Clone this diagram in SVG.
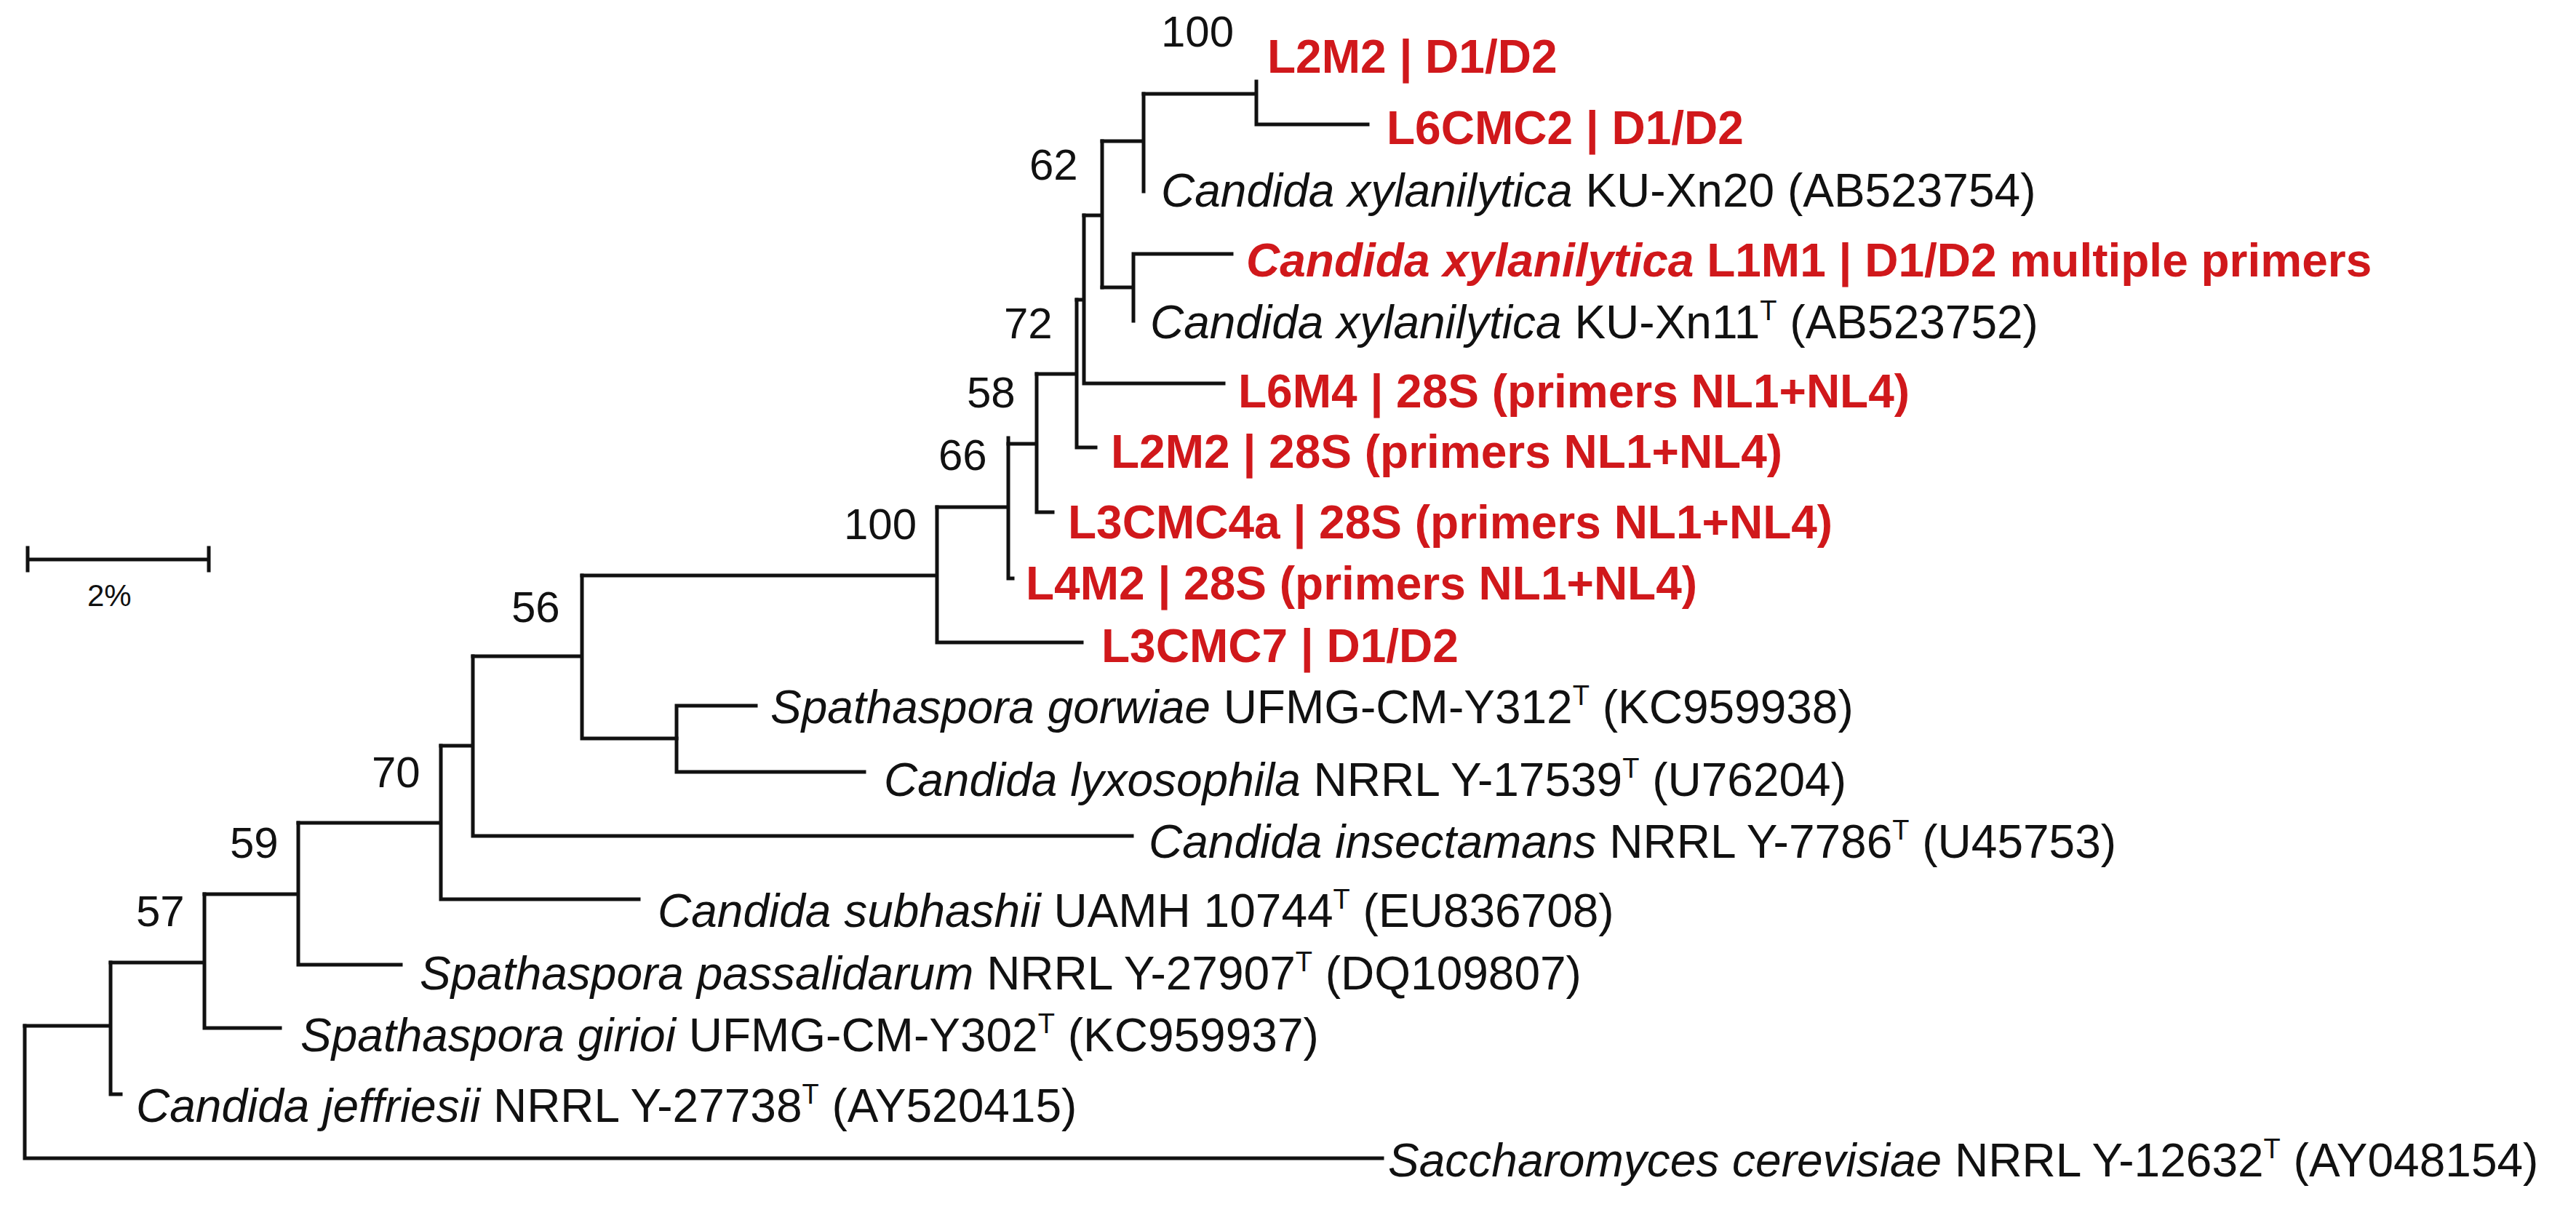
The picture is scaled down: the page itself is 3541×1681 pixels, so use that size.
<svg xmlns="http://www.w3.org/2000/svg" width="3541" height="1681" viewBox="0 0 3541 1681">
<style>
.b{fill:none;stroke:#111;stroke-width:5;stroke-linecap:square}
text{font-family:"Liberation Sans",Arial,sans-serif;font-size:64px;fill:#111}
.n{font-size:60px}
.r{fill:#d0181b;font-weight:bold}
.sup{font-size:38px}
</style>
<rect width="3541" height="1681" fill="#fff"/>
<g id="connectors" class="b">
<path d="M34,1410V1592H1900"/>
<path d="M34,1410H152M152,1323V1504H166"/>
<path d="M152,1323H281M281,1229V1413H385"/>
<path d="M281,1229H410M410,1131V1326H551"/>
<path d="M410,1131H606M606,1025V1236H878"/>
<path d="M606,1025H650M650,902V1149H1556"/>
<path d="M650,902H800M800,791V1015H930"/>
<path d="M930,970V1061M930,970H1039M930,1061H1188"/>
<path d="M800,791H1288M1288,697V883H1487"/>
<path d="M1288,697H1386M1386,602V795H1392"/>
<path d="M1386,610H1425M1425,514V704H1447"/>
<path d="M1425,514H1480M1480,412V615H1506"/>
<path d="M1480,412H1490M1490,296V527H1682"/>
<path d="M1490,296H1515M1515,194V395"/>
<path d="M1515,395H1558M1558,349V441M1558,349H1693"/>
<path d="M1515,194H1572M1572,129V263"/>
<path d="M1572,129H1727M1727,112V171H1880"/>
</g>
<g id="scale">
<path class="b" d="M38,769H287M38,753V784M287,753V784"/>
<text x="120" y="833" style="font-size:42px">2%</text>
</g>
<g id="bootstrap">
<text class="n" x="1596" y="64">100</text>
<text class="n" x="1415" y="247">62</text>
<text class="n" x="1380" y="465">72</text>
<text class="n" x="1329" y="560">58</text>
<text class="n" x="1290" y="646">66</text>
<text class="n" x="1160" y="741">100</text>
<text class="n" x="703" y="855">56</text>
<text class="n" x="511" y="1082">70</text>
<text class="n" x="316" y="1179">59</text>
<text class="n" x="187" y="1273">57</text>
</g>
<g id="leaf-L2M2-D1D2"><text class="r" x="1742" y="100">L2M2 | D1/D2</text></g>
<g id="leaf-L6CMC2"><text class="r" x="1906" y="198">L6CMC2 | D1/D2</text></g>
<g id="leaf-KUXn20"><text x="1596" y="284"><tspan font-style="italic">Candida xylanilytica</tspan> KU-Xn20 (AB523754)</text></g>
<g id="leaf-L1M1"><text class="r" x="1713" y="380"><tspan font-style="italic">Candida xylanilytica</tspan> L1M1 | D1/D2 multiple primers</text></g>
<g id="leaf-KUXn11"><text x="1581" y="465"><tspan font-style="italic">Candida xylanilytica</tspan> KU-Xn11<tspan class="sup" dy="-25">T</tspan><tspan dy="25"> (AB523752)</tspan></text></g>
<g id="leaf-L6M4"><text class="r" x="1702" y="560">L6M4 | 28S (primers NL1+NL4)</text></g>
<g id="leaf-L2M2-28S"><text class="r" x="1527" y="643">L2M2 | 28S (primers NL1+NL4)</text></g>
<g id="leaf-L3CMC4a"><text class="r" x="1468" y="740">L3CMC4a | 28S (primers NL1+NL4)</text></g>
<g id="leaf-L4M2"><text class="r" x="1410" y="824">L4M2 | 28S (primers NL1+NL4)</text></g>
<g id="leaf-L3CMC7"><text class="r" x="1514" y="910">L3CMC7 | D1/D2</text></g>
<g id="leaf-gorwiae"><text x="1059" y="994"><tspan font-style="italic">Spathaspora gorwiae</tspan> UFMG-CM-Y312<tspan class="sup" dy="-25">T</tspan><tspan dy="25"> (KC959938)</tspan></text></g>
<g id="leaf-lyxosophila"><text x="1215" y="1094"><tspan font-style="italic">Candida lyxosophila</tspan> NRRL Y-17539<tspan class="sup" dy="-25">T</tspan><tspan dy="25"> (U76204)</tspan></text></g>
<g id="leaf-insectamans"><text x="1579" y="1179"><tspan font-style="italic">Candida insectamans</tspan> NRRL Y-7786<tspan class="sup" dy="-25">T</tspan><tspan dy="25"> (U45753)</tspan></text></g>
<g id="leaf-subhashii"><text x="904" y="1274"><tspan font-style="italic">Candida subhashii</tspan>  UAMH 10744<tspan class="sup" dy="-25">T</tspan><tspan dy="25"> (EU836708)</tspan></text></g>
<g id="leaf-passalidarum"><text x="577" y="1360"><tspan font-style="italic">Spathaspora passalidarum</tspan> NRRL Y-27907<tspan class="sup" dy="-25">T</tspan><tspan dy="25"> (DQ109807)</tspan></text></g>
<g id="leaf-girioi"><text x="413" y="1445"><tspan font-style="italic">Spathaspora girioi</tspan> UFMG-CM-Y302<tspan class="sup" dy="-25">T</tspan><tspan dy="25"> (KC959937)</tspan></text></g>
<g id="leaf-jeffriesii"><text x="187" y="1542"><tspan font-style="italic">Candida jeffriesii</tspan> NRRL Y-27738<tspan class="sup" dy="-25">T</tspan><tspan dy="25"> (AY520415)</tspan></text></g>
<g id="leaf-cerevisiae"><text x="1908" y="1617"><tspan font-style="italic">Saccharomyces cerevisiae</tspan> NRRL Y-12632<tspan class="sup" dy="-25">T</tspan><tspan dy="25"> (AY048154)</tspan></text></g>
</svg>
